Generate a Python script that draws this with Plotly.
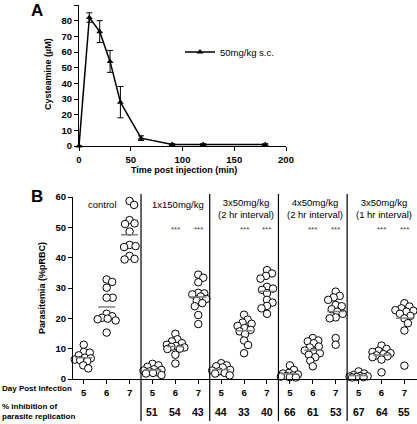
import plotly.graph_objects as go
import numpy as np

# ---------------- Panel A data ----------------
time_min = [0, 10, 20, 30, 40, 60, 90, 120, 180]
cysteamine = [0, 82, 73, 54, 28, 5, 1, 1, 1]
cyst_err = [0, 3, 7, 7, 10, 1.5, 0.5, 0.5, 0.5]
legend_label = "50mg/kg s.c."

# ---------------- Panel B data ----------------
groups = ["control", "1x150mg/kg", "3x50mg/kg<br>(2 hr interval)",
          "4x50mg/kg<br>(2 hr interval)", "3x50mg/kg<br>(1 hr interval)"]
days = [5, 6, 7]
day_labels = ["5", "6", "7"]
inhibition = [None, ["51", "54", "43"], ["44", "33", "40"],
              ["66", "61", "53"], ["67", "64", "55"]]

control_d5 = [11.3, 8.9, 8.7, 7.8, 7.0, 6.8, 6.4, 6.2, 5.9, 4.5, 3.5]
control_d6 = [32.8, 32.0, 30.1, 26.8, 26.8, 21.5, 20.7, 20.2, 19.9, 19.7, 19.3, 15.3]
control_d7 = [58.7, 57.4, 52.4, 51.3, 51.1, 48.6, 44.2, 43.8, 43.5, 40.6, 39.6, 39.4]

x150_d5 = [5.0, 4.5, 4.0, 3.2, 3.0, 2.8, 2.5, 2.2, 2.0, 1.8, 1.3]
x150_d6 = [14.9, 13.1, 12.4, 11.8, 11.3, 10.9, 10.6, 10.4, 10.0, 9.9, 8.0, 5.1]
x150_d7 = [34.4, 33.4, 31.9, 28.4, 28.2, 27.9, 27.2, 26.4, 25.8, 25.0, 24.0, 21.1, 18.1]

x3_2h_d5 = [5.2, 4.5, 4.2, 3.8, 3.0, 2.8, 2.5, 2.0, 1.8, 1.2]
x3_2h_d6 = [21.2, 19.6, 18.6, 18.2, 17.5, 16.8, 16.2, 15.7, 14.8, 12.7, 11.2, 8.5]
x3_2h_d7 = [35.9, 34.8, 34.0, 33.1, 30.4, 29.8, 29.4, 28.3, 26.1, 25.2, 24.1, 23.3, 21.5]

x4_2h_d5 = [4.5, 3.0, 2.0, 1.8, 1.5, 1.2, 1.0, 0.8, 0.6, 0.5]
x4_2h_d6 = [13.5, 12.7, 12.4, 11.8, 10.7, 10.4, 9.4, 9.0, 8.5, 8.0, 7.2, 6.0, 4.2]
x4_2h_d7 = [28.8, 27.4, 26.9, 26.1, 24.4, 24.0, 23.0, 22.2, 21.5, 20.3, 20.0, 13.5, 11.3]

x3_1h_d5 = [2.5, 1.8, 1.3, 1.0, 0.9, 0.8, 0.7, 0.6, 0.5]
x3_1h_d6 = [11.0, 9.9, 9.3, 8.9, 8.5, 8.2, 7.8, 7.5, 7.2, 6.4, 2.2]
x3_1h_d7 = [25.0, 23.9, 23.3, 22.7, 22.5, 22.2, 21.5, 20.8, 20.0, 18.4, 16.0, 4.4]

series = [
    [control_d5, control_d6, control_d7],
    [x150_d5, x150_d6, x150_d7],
    [x3_2h_d5, x3_2h_d6, x3_2h_d7],
    [x4_2h_d5, x4_2h_d6, x4_2h_d7],
    [x3_1h_d5, x3_1h_d6, x3_1h_d7],
]
stars = "***"

# ---------------- layout geometry ----------------
W, H = 417, 424
FONT = "Arial, 'Liberation Sans', Helvetica, sans-serif"

def px(x):
    return x / W

def py(y):
    return 1 - y / H

xB_range = [-0.47, 14.55]
yB_range = [0, 60]
xB_dom = [px(73), px(417)]
yB_dom = [py(379), py(197)]
ppx = (xB_dom[1] - xB_dom[0]) * W / (xB_range[1] - xB_range[0])
ppy = (yB_dom[1] - yB_dom[0]) * H / (yB_range[1] - yB_range[0])


def swarm(vals, xc, r=2.9, maxoff=9.0):
    """Deterministic beeswarm offsets (pixel space), limited width; overlap allowed when dense."""
    placed = []
    order = np.argsort(vals)[::-1]
    res = [None] * len(vals)
    cands = [0.0]
    s = 0.5
    while s <= maxoff:
        cands += [s, -s]
        s += 0.5
    for i in order:
        yv = vals[i] * ppy
        best, best_score = None, -1.0
        for off in cands:
            if not placed:
                best = off
                break
            dmin = min(((off - ox) ** 2 + (yv - oy) ** 2) ** 0.5 for ox, oy in placed)
            if dmin >= 2 * r:
                best = off
                break
            if dmin > best_score + 1e-9:
                best_score, best = dmin, off
        placed.append((best, yv))
        res[i] = xc + best / ppx
    return res


fig = go.Figure()

# ---- Panel A ----
fig.add_trace(go.Scatter(
    x=time_min, y=cysteamine, mode="lines+markers", name=legend_label,
    line=dict(color="black", width=1.5),
    marker=dict(symbol="triangle-up", size=6, color="black"),
    error_y=dict(type="data", array=cyst_err, color="black", thickness=1, width=3),
    xaxis="x", yaxis="y", showlegend=True, cliponaxis=False,
))

# ---- Panel B ----
for g, grp in enumerate(series):
    for d, vals in enumerate(grp):
        xc = g * 3 + d
        xs = swarm(vals, xc)
        fig.add_trace(go.Scatter(
            x=xs, y=vals, mode="markers", showlegend=False,
            marker=dict(symbol="circle", size=7.5, color="white",
                        line=dict(width=1, color="black")),
            xaxis="x2", yaxis="y2", hoverinfo="y", cliponaxis=False,
        ))
        m = float(np.mean(vals))
        fig.add_trace(go.Scatter(
            x=[xc - 0.37, xc + 0.37], y=[m, m], mode="lines", showlegend=False,
            line=dict(color="#808080", width=1.5), xaxis="x2", yaxis="y2",
            hoverinfo="skip",
        ))

shapes = []
annotations = []
for g in range(1, 5):
    shapes.append(dict(type="line", xref="x2", yref="paper", x0=g * 3 - 0.5, x1=g * 3 - 0.5,
                       y0=py(421), y1=py(194), line=dict(color="black", width=1.2)))


def ann(x, y, text, size, xref="paper", yref="paper", color="black", xanchor="center",
        yanchor="middle", **kw):
    return dict(xref=xref, yref=yref, x=x, y=y, text=text, showarrow=False,
                xanchor=xanchor, yanchor=yanchor,
                font=dict(family=FONT, size=size, color=color), **kw)


for g, name in enumerate(groups):
    cx = 0.8 if g == 0 else g * 3 + 1.1
    annotations.append(ann(cx, py(204) if g <= 1 else py(208), name, 9.5, xref="x2"))
    if g > 0:
        for d in (1, 2):
            annotations.append(ann(g * 3 + d, py(229), stars, 8, xref="x2", color="#444444"))
        for d in range(3):
            annotations.append(ann(g * 3 + d, py(412), "<b>%s</b>" % inhibition[g][d], 10.5, xref="x2"))

annotations += [
    ann(px(0), py(388), "<b>Day Post Infection</b>", 8, xanchor="left"),
    ann(px(0), py(411), "<b>% inhibition of<br>parasite replication</b>", 8, xanchor="left",
        align="left"),
    ann(px(37), py(10), "<b>A</b>", 17),
    ann(px(37), py(196), "<b>B</b>", 17),
    ann(px(184), py(170), "<b>Time post injection (min)</b>", 9),
    ann(px(48), py(74), "<b>Cysteamine (\u00b5M)</b>", 9, textangle=-90),
    ann(px(42), py(288), "<b>Parasitemia (%pRBC)</b>", 9, textangle=-90),
]

tickfont = dict(family=FONT, size=9.5, color="black")
axis_common = dict(showgrid=False, zeroline=False, showline=True, linecolor="black", linewidth=1.2,
                   ticks="outside", ticklen=4, tickwidth=1.2, tickcolor="black", tickfont=tickfont,
                   tickmode="array", showticklabels=True, automargin=False)


def bold(v):
    return ["<b>%s</b>" % t for t in v]


fig.update_layout(
    width=W, height=H, margin=dict(l=0, r=0, t=0, b=0),
    paper_bgcolor="white", plot_bgcolor="rgba(0,0,0,0)",
    font=dict(family=FONT, color="black"),
    xaxis=dict(domain=[px(79), px(286)], range=[0, 200], anchor="y",
               tickvals=[0, 50, 100, 150, 200], ticktext=bold(["0", "50", "100", "150", "200"]),
               **axis_common),
    yaxis=dict(domain=[py(146), py(5)], range=[0, 90], anchor="x",
               tickvals=list(range(0, 91, 10)), ticktext=bold([str(v) for v in range(0, 91, 10)]),
               **axis_common),
    xaxis2=dict(domain=xB_dom, range=xB_range, anchor="y2",
                tickvals=[g * 3 + d for g in range(5) for d in range(3)],
                ticktext=bold(day_labels * 5), **axis_common),
    yaxis2=dict(domain=yB_dom, range=yB_range, anchor="x2",
                tickvals=list(range(0, 61, 10)), ticktext=bold([str(v) for v in range(0, 61, 10)]),
                **axis_common),
    legend=dict(x=px(180), y=py(52), xanchor="left", yanchor="middle", bgcolor="rgba(0,0,0,0)",
                font=dict(family=FONT, size=9.5, color="black"), itemwidth=30),
    shapes=shapes, annotations=annotations,
)

fig.write_html("out.html", config={"displayModeBar": False},
               post_script="document.body.style.margin='0';document.body.style.padding='0';")
